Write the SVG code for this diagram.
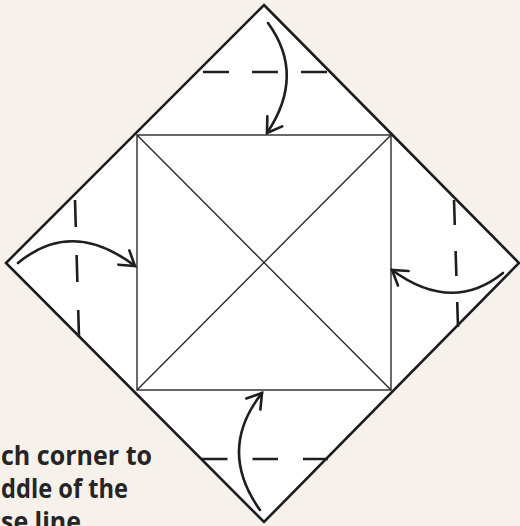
<svg xmlns="http://www.w3.org/2000/svg" width="520" height="526" viewBox="0 0 520 526">
  <defs>
    <marker id="head" markerUnits="userSpaceOnUse" markerWidth="40" markerHeight="40" refX="0" refY="0" viewBox="-20 -20 40 40" orient="auto" overflow="visible">
      <path d="M -14 -9 L 0 0 L -14 9" fill="none" stroke="#1e1e1e" stroke-width="2.6" stroke-linecap="round" stroke-linejoin="miter"/>
    </marker>
    <style>
      .edge { fill: #ffffff; stroke: #1c1c1c; stroke-width: 2.6; stroke-linejoin: miter; }
      .thin { fill: none; stroke: #2a2a2a; stroke-width: 1.4; }
      .dash { fill: none; stroke: #1e1e1e; stroke-width: 2.6; }
      .arrow { fill: none; stroke: #1e1e1e; stroke-width: 2.6; stroke-linecap: round; marker-end: url(#head); }
      .label { font-family: "Open Sans", "Liberation Sans", sans-serif; font-weight: 700; font-size: 27px; fill: #262424; }
    </style>
  </defs>
  <rect x="0" y="0" width="520" height="526" fill="#f6f2eb"/>

  <g id="paper">
    <polygon class="edge" points="264,5 519,263 264,522 6,263"/>
  </g>
  <g id="center-square">
    <rect class="thin" x="137" y="135" width="254" height="255"/>
    <line class="thin" x1="137" y1="135" x2="391" y2="390"/>
    <line class="thin" x1="391" y1="135" x2="137" y2="390"/>
  </g>

  <g id="folds">
    <line class="dash" x1="203" y1="72" x2="327" y2="72" stroke-dasharray="26 23"/>
    <line class="dash" x1="75" y1="200" x2="79" y2="337" stroke-dasharray="27 28"/>
    <line class="dash" x1="454" y1="200" x2="458" y2="327" stroke-dasharray="25 26"/>
    <line class="dash" x1="202" y1="459" x2="328" y2="459" stroke-dasharray="25.5 25"/>
  </g>

  <g id="connectors">
    <path class="arrow" d="M 268 23 Q 306 75 267 133"/>
    <path class="arrow" d="M 18 263 Q 72 218 135 266"/>
    <path class="arrow" d="M 503 273 Q 452 314 392 270"/>
    <path class="arrow" d="M 260 510 Q 217 450 262 393"/>
  </g>

  <g id="caption">
    <text class="label" x="1" y="465" textLength="151" lengthAdjust="spacingAndGlyphs">ch corner to</text>
    <text class="label" x="1" y="498" textLength="127" lengthAdjust="spacingAndGlyphs">ddle of the</text>
    <text class="label" x="1" y="531" textLength="80" lengthAdjust="spacingAndGlyphs">se line</text>
  </g>
</svg>
